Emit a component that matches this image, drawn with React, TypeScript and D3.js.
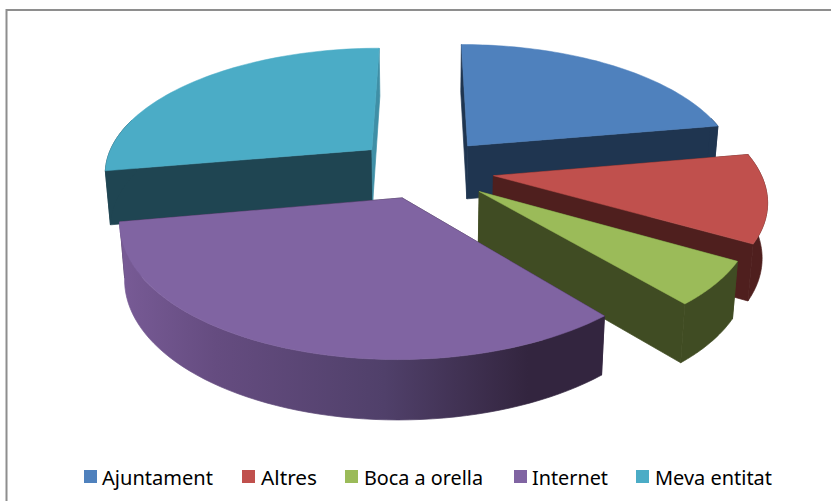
import * as d3 from "d3";
import React from "react";

const categories = ["Ajuntament", "Altres", "Boca a orella", "Internet", "Meva entitat"];
const values = [8, 4, 2, 12, 10];
const colors = ["#4F81BD", "#C0504D", "#9BBB59", "#8064A2", "#4BACC6"];
const darks = ["#1F3550", "#4F1F1E", "#404C23", "#33253F", "#1F4552"];
const radii = [0.97, 0.95, 0.93, 0.955, 0.96];
const explodes = [0.25, 0.25, 0.25, 0.22, 0.25];
const legendSwatchX = [84, 242, 345, 514, 636];
const legendTextX = [102, 261, 364, 532, 655];
const legendTextW = [111, 56, 119, 76, 117];

// camera: plain homography for the top face, bottom face is pulled in a bit
const cx = 424;
const cy = 170;
const A = 280;
const B = 130;
const k = 0.175;

const project = (X: number, Y: number, z = 0): [number, number] => {
  const w = 1 - k * Y;
  const s = 1 - 0.016 * z;
  return [cx + (A * X * s) / w, cy + (B * Y) / w + z * (54 + 5.5 * Y)];
};

const line = d3.line();
const frontFrom = (75 * Math.PI) / 180;
const frontTo = (285 * Math.PI) / 180;

export default function App() {
  const arcs = d3.pie<number>().sort(null)(values);
  const color = d3.scaleOrdinal<string, string>().domain(categories).range(colors);
  const dark = d3.scaleOrdinal<string, string>().domain(categories).range(darks);

  const slices = arcs.map((a, i) => {
    const mid = (a.startAngle + a.endAngle) / 2;
    const ox = explodes[i] * Math.sin(mid);
    const oy = -explodes[i] * Math.cos(mid);
    const at = (t: number, z = 0) =>
      project(ox + radii[i] * Math.sin(t), oy - radii[i] * Math.cos(t), z);
    const apex = (z = 0) => project(ox, oy, z);
    const steps = d3.range(0, 61).map((j) => a.startAngle + ((a.endAngle - a.startAngle) * j) / 60);
    const rim = steps.map((t) => at(t));
    // only the side of the rim that faces the camera gets a wall
    const front = steps.filter((t) => t >= frontFrom && t <= frontTo);
    const rimTop = front.map((t) => at(t));
    const rimBottom = front.map((t) => at(t, 1)).reverse();
    return {
      name: categories[i],
      top: line([apex(), ...rim]) + "Z",
      rim: line([...rimTop, ...rimBottom]) + "Z",
      wallStart: line([apex(), at(a.startAngle), at(a.startAngle, 1), apex(1)]) + "Z",
      wallEnd: line([apex(), at(a.endAngle), at(a.endAngle, 1), apex(1)]) + "Z",
    };
  });

  return (
    <svg
      width={831}
      height={501}
      style={{ position: "absolute", left: 0, top: 0 }}
      fontFamily="'Noto Sans', sans-serif"
    >
      <defs>
        <linearGradient id="rimInternet" gradientUnits="userSpaceOnUse" x1={120} x2={600} y1={0} y2={0}>
          <stop offset="0" stopColor="#785B96" />
          <stop offset="0.2" stopColor="#654C80" />
          <stop offset="0.55" stopColor="#50406A" />
          <stop offset="0.85" stopColor="#33253F" />
          <stop offset="1" stopColor="#33253F" />
        </linearGradient>
      </defs>
      <rect x={0} y={0} width={831} height={501} fill="#fff" />
      <path d="M6.5,501V10H831" fill="none" stroke="#8E8E8E" strokeWidth={2} />

      {[4, 0, 1, 2, 3].map((i) => {
        const s = slices[i];
        const wallFill = dark(s.name);
        const rimFill = s.name === "Internet" ? "url(#rimInternet)" : wallFill;
        const endFill = s.name === "Meva entitat" ? "#3F8FA6" : wallFill;
        // hairline stroke closes the antialiasing seams between faces
        return (
          <g key={s.name}>
            <path d={s.wallStart} fill={wallFill} stroke={wallFill} strokeWidth={0.7} />
            <path d={s.wallEnd} fill={endFill} stroke={endFill} strokeWidth={0.7} />
            <path d={s.rim} fill={rimFill} stroke={rimFill} strokeWidth={0.7} />
            <path d={s.top} fill={color(s.name)} stroke={color(s.name)} strokeWidth={0.5} />
          </g>
        );
      })}

      {categories.map((c, i) => (
        <g key={c}>
          <rect x={legendSwatchX[i]} y={470} width={13} height={13} fill={color(c)} />
          <text
            x={legendTextX[i]}
            y={485}
            fontSize={19}
            fill="#000"
            textLength={legendTextW[i]}
            lengthAdjust="spacingAndGlyphs"
          >
            {c}
          </text>
        </g>
      ))}
    </svg>
  );
}
